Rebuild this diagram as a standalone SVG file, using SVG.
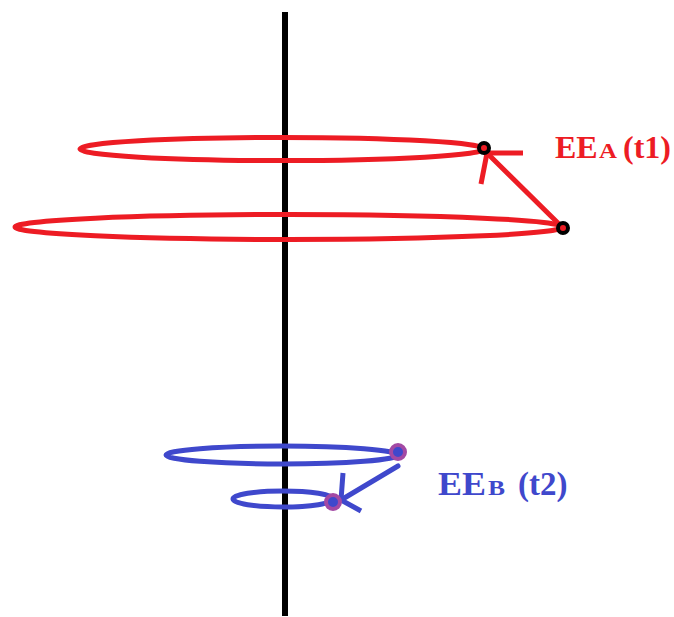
<svg xmlns="http://www.w3.org/2000/svg" width="674" height="617" viewBox="0 0 674 617">
<style>
.red{fill:none;stroke:#ed1c24;stroke-width:5}
.blue{fill:none;stroke:#3f48cc;stroke-width:5}
.lbl{font-family:"Liberation Serif","Times New Roman",serif;font-weight:bold}
</style>
<rect width="674" height="617" fill="#fff"/>
<g id="axis"><line x1="285" y1="12" x2="285" y2="616" stroke="#000" stroke-width="6"/></g>
<g id="orbitA1"><ellipse class="red" cx="282" cy="149" rx="202" ry="11.5"/></g>
<g id="orbitA2"><ellipse class="red" cx="289" cy="227" rx="274" ry="12.5"/></g>
<g id="orbitB1"><ellipse class="blue" cx="282" cy="455" rx="116" ry="9"/></g>
<g id="orbitB2"><ellipse class="blue" cx="283" cy="499" rx="50" ry="8"/></g>
<g id="connectors">
<polyline class="red" stroke-linecap="round" points="563,228 487,153"/>
<polyline class="red" points="481,184 487,153 523,153"/>
<polyline class="blue" stroke-linecap="round" points="398,466 341,500"/>
<polyline class="blue" points="343,473 341,500 361,511"/>
</g>
<g id="pointA1"><circle cx="484" cy="148" r="5" fill="#ed1c24" stroke="#000" stroke-width="4"/></g>
<g id="pointA2"><circle cx="563" cy="228" r="5" fill="#ed1c24" stroke="#000" stroke-width="4"/></g>
<g id="pointB1"><circle cx="398" cy="452" r="7" fill="#3f48cc" stroke="#a349a4" stroke-width="4"/></g>
<g id="pointB2"><circle cx="333" cy="502" r="7" fill="#3f48cc" stroke="#a349a4" stroke-width="4"/></g>
<g id="labelA"><text class="lbl" y="158" font-size="32" fill="#ed1c24"><tspan x="555">EE</tspan><tspan x="599" font-size="21" textLength="18" lengthAdjust="spacingAndGlyphs">A</tspan><tspan x="623">(t1)</tspan></text></g>
<g id="labelB"><text class="lbl" y="495" font-size="33" fill="#3f48cc"><tspan x="438" textLength="48" lengthAdjust="spacingAndGlyphs">EE</tspan><tspan x="488" font-size="21" textLength="17" lengthAdjust="spacingAndGlyphs">B</tspan><tspan x="518">(t2)</tspan></text></g>
</svg>
